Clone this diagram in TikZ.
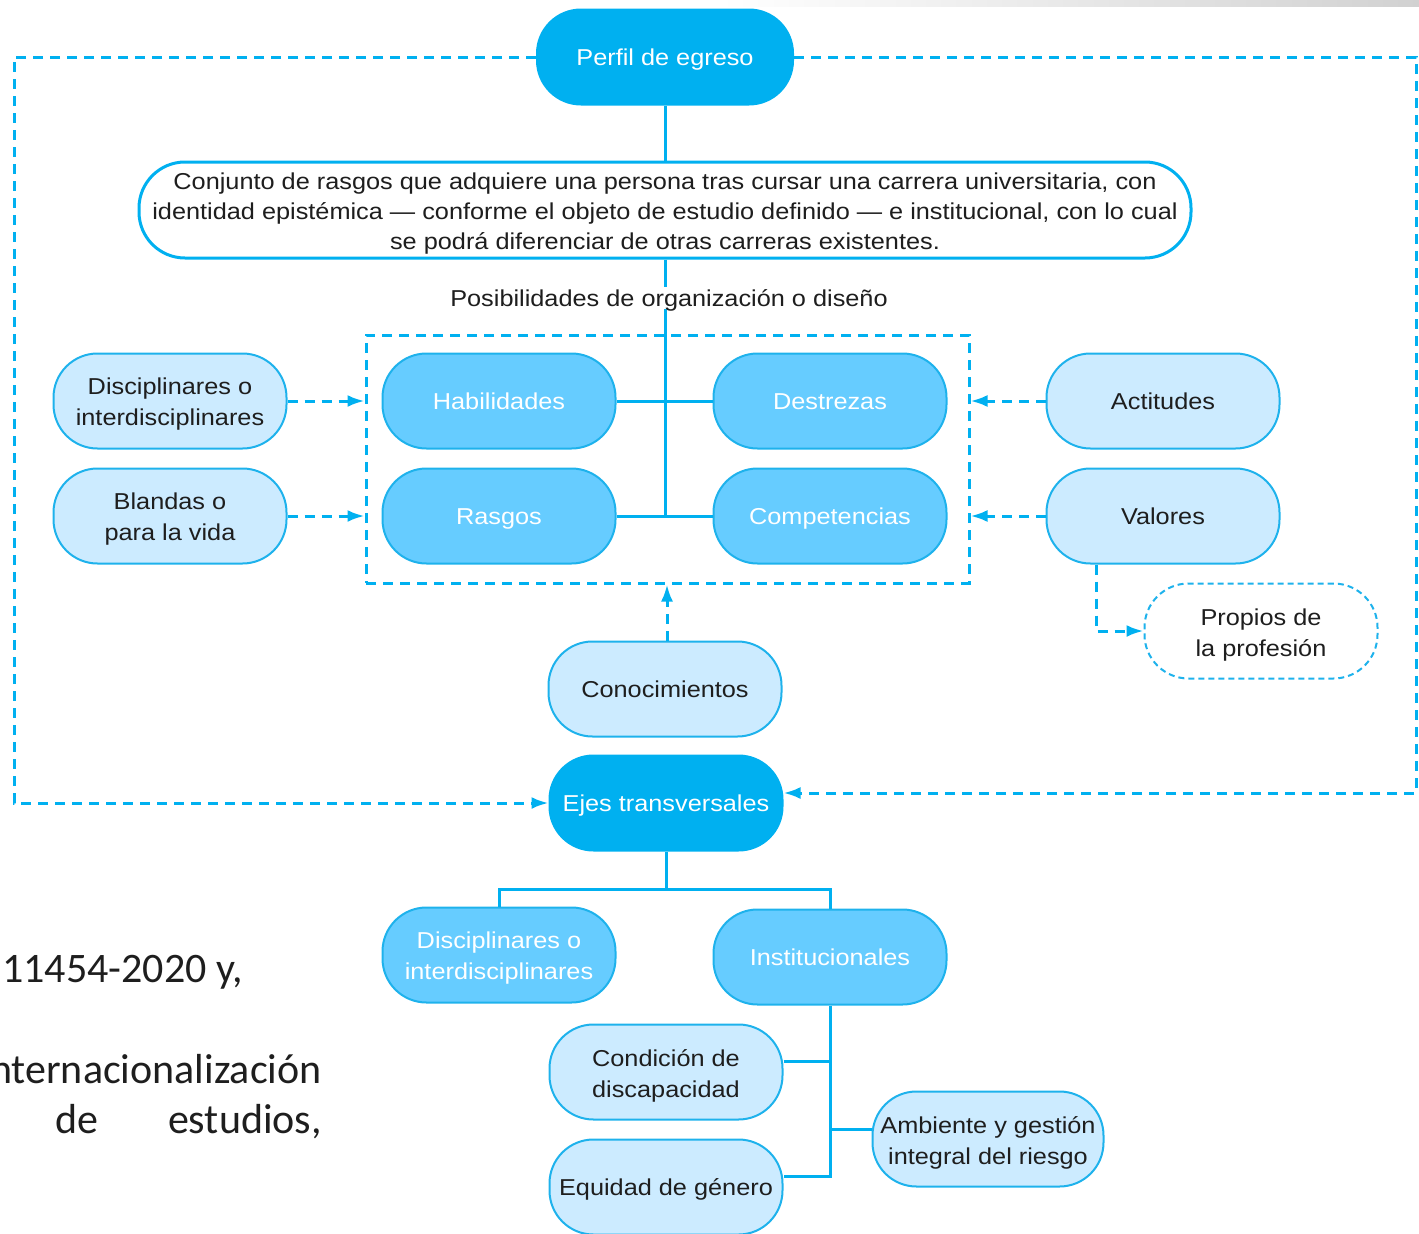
\documentclass[tikz,border=0pt]{standalone}
\usepackage{fontspec}
\setmainfont{Liberation Sans}[FakeStretch=1.1]
\newfontfamily\calib{Carlito}
\usetikzlibrary{arrows.meta,calc}
\definecolor{cDark}{RGB}{0,176,240}
\definecolor{cMid}{RGB}{102,204,255}
\definecolor{cLight}{RGB}{204,235,255}
\definecolor{cEdge}{RGB}{30,178,236}
\definecolor{cText}{RGB}{30,30,30}
\newcommand{\upst}{\rule{0pt}{23pt}}
\newcommand{\upstb}{\rule{0pt}{25pt}}
\tikzset{
  pill/.style={rectangle, rounded corners=44pt, minimum width=233pt, minimum height=95pt,
    align=center, line width=2pt, inner sep=0pt, font=\fontsize{23}{31}\selectfont},
  oneline/.style={text height=16.8pt, text depth=0pt},
  darkpill/.style={pill, fill=cDark, draw=cDark, text=white},
  midpill/.style={pill, fill=cMid, draw=cEdge, text=white},
  lightpill/.style={pill, fill=cLight, draw=cEdge, text=cText},
  dashpill/.style={pill, fill=white, draw=cEdge, text=cText, dash pattern=on 6pt off 4pt},
  conn/.style={draw=cDark, line width=3pt},
  dline/.style={draw=cDark, line width=3pt, dash pattern=on 10pt off 7pt},
  dconn/.style={dline, -{Latex[length=17pt,width=12pt]}},
  bgtext/.style={inner sep=0pt, text=cText, font=\calib\fontsize{42}{50}\selectfont},
}
\begin{document}
\begin{tikzpicture}[x=1pt,y=-1pt]
\useasboundingbox (0,0) rectangle (1419,1234);
\clip (0,0) rectangle (1419,1234);
\shade[left color=white, right color=black!18] (720,0) rectangle (1419,6);

% background page text
\node[bgtext, anchor=base west] (bg1) at (2,982) {11454-2020 y,};
\node[bgtext, anchor=base east] (bg2) at (322,1083) {internacionalización};
\node[bgtext, anchor=base west] (bg3) at (55,1133) {de};
\node[bgtext, anchor=base east] (bg4) at (322,1133) {estudios,};

% nodes
\node[darkpill, oneline, minimum width=256pt] (perfil) at (665,57) {Perfil de egreso};
\node[rectangle, rounded corners=46pt, minimum width=1052pt, minimum height=96pt,
  draw=cDark, line width=3pt, fill=white, text=cText, align=center, inner sep=0pt,
  font=\fontsize{23}{30}\selectfont] (def) at (665,210)
  {\upst Conjunto de rasgos que adquiere una persona tras cursar una carrera universitaria, con\\
   identidad epistémica — conforme el objeto de estudio definido — e institucional, con lo cual\\
   se podrá diferenciar de otras carreras existentes.};

\node[midpill, oneline] (habil) at (499,401) {Habilidades};
\node[midpill, oneline] (destr) at (830,401) {Destrezas};
\node[midpill, oneline] (rasgos) at (499,516) {Rasgos};
\node[midpill, oneline] (compet) at (830,516) {Competencias};

\node[draw=cDark, line width=3pt, dash pattern=on 10pt off 7pt, minimum width=603pt,
  minimum height=248pt, inner sep=0pt] (frame) at (667.5,459) {};

\node[lightpill] (discL) at (170,401) {\upst Disciplinares o\\interdisciplinares};
\node[lightpill] (bland) at (170,516) {\upst Blandas o\\para la vida};
\node[lightpill, oneline] (actit) at (1163,401) {Actitudes};
\node[lightpill, oneline] (valor) at (1163,516) {Valores};
\node[dashpill] (propios) at (1261,631) {\upstb Propios de\\la profesión};
\node[lightpill, oneline] (conoc) at (665,689) {Conocimientos};
\node[darkpill, oneline] (ejes) at (666,803) {Ejes transversales};

\node[midpill] (discB) at (499,955) {\upst Disciplinares o\\interdisciplinares};
\node[midpill, oneline] (inst) at (830,957) {Institucionales};
\node[lightpill] (cond) at (666,1072) {\upstb Condición de\\discapacidad};
\node[lightpill, oneline] (equid) at (666,1187) {Equidad de género};
\node[lightpill, minimum width=231pt] (amb) at (988,1139) {\upstb Ambiente y gestión\\integral del riesgo};

% solid connectors
\draw[conn] (perfil.south) -- (def.north);
\coordinate (jr) at (665,516);
\draw[conn] (def.south) -- (jr);
\draw[conn] (habil.east) -- (destr.west);
\draw[conn] (rasgos.east) -- (compet.west);
\node[fill=white, inner sep=3pt, oneline, text=cText, font=\fontsize{23}{30}\selectfont] (posib) at (669,298)
  {Posibilidades de organización o diseño};

% dashed connectors
\draw[dconn] (discL.east) -- (discL.east -| frame.west);
\draw[dconn] (bland.east) -- (bland.east -| frame.west);
\draw[dconn] (actit.west) -- (actit.west -| frame.east);
\draw[dconn] (valor.west) -- (valor.west -| frame.east);
\draw[dconn] ($(valor.south)+(-67,0)$) |- (propios.west);
\draw[dconn] ($(conoc.north)+(2,0)$) -- ($(conoc.north |- frame.south)+(2,0)$);

\coordinate (loopL) at (14,430);
\coordinate (loopR) at (1416,430);
\draw[dconn] (perfil.west) -| (loopL) |- (ejes.west);
\draw[dconn] (perfil.east) -| (loopR) |- ($(ejes.east)+(0,-10)$);

% bottom tree
\coordinate (tb) at (666,889);
\draw[conn] (ejes.south) -- (tb);
\draw[conn] (discB.north) |- (tb) -| (inst.north);
\draw[conn] (inst.south) |- ($(equid.east)+(0,-11)$);
\draw[conn] ($(cond.east)+(0,-11)$) -- ++(47,0);
\draw[conn] ($(amb.west)+(0,-10)$) -- ++(-43,0);
\end{tikzpicture}
\end{document}
